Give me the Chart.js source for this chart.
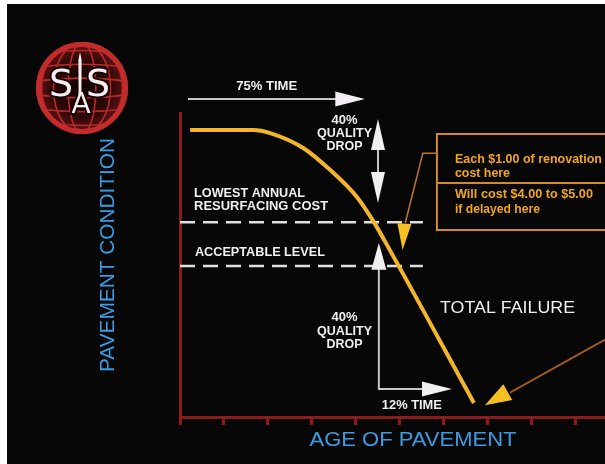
<!DOCTYPE html>
<html><head><meta charset="utf-8">
<script src="https://cdn.jsdelivr.net/npm/chart.js@4.4.1/dist/chart.umd.min.js"></script>
<style>html,body{margin:0;padding:0;background:#fff}canvas{display:block}</style>
</head><body>
<canvas id="c" width="605" height="464"></canvas>
<script>
// pavement condition curve (age units = axis tick steps, condition 0-100)
const ageX       = [0.23, 1.66, 2.05, 2.80, 3.41, 4.02, 4.39, 4.77, 6.68];
const conditionY = [94.4, 94.4, 93.4, 88.5, 81.3, 72.4, 64.5, 54.9, 4.6];
// dashed reference levels
const levelNames = ['LOWEST ANNUAL RESURFACING COST', 'ACCEPTABLE LEVEL'];
const levelY     = [64.1, 49.7];
const levelEndX  = 5.52;
// tick marks on the age axis
const ageTicks = [0, 1, 2, 3, 4, 5, 6, 7, 8, 9];

const AXIS_RED = '#8c1c1c', WHITE = '#f1eff1', GREY = '#c9c5c9', YEL = '#f5c022', ORG = '#f2a61c', BLUE = '#3d9be3';

// draw text squeezed/stretched to a measured width
function fitText(ctx, txt, x, y, w, font, color, align){
  ctx.save();
  ctx.font = font; ctx.fillStyle = color; ctx.textBaseline = 'middle'; ctx.textAlign = 'left';
  const m = ctx.measureText(txt).width;
  ctx.translate(align === 'center' ? x - w/2 : x, y);
  ctx.scale(w/m, 1);
  ctx.fillText(txt, 0, 0);
  ctx.restore();
}
function head(ctx, b, t, hw, color){
  const dx = t[0]-b[0], dy = t[1]-b[1], L = Math.hypot(dx, dy), nx = -dy/L, ny = dx/L;
  ctx.beginPath();
  ctx.moveTo(t[0], t[1]);
  ctx.lineTo(b[0]+nx*hw, b[1]+ny*hw);
  ctx.lineTo(b[0]-nx*hw, b[1]-ny*hw);
  ctx.closePath();
  ctx.fillStyle = color; ctx.fill();
}
function path(ctx, pts, color, w){
  ctx.beginPath();
  pts.forEach((p,i)=> i ? ctx.lineTo(p[0],p[1]) : ctx.moveTo(p[0],p[1]));
  ctx.strokeStyle = color; ctx.lineWidth = w; ctx.stroke();
}

function drawLogo(ctx){
  const cx = 82, cy = 88, r = 46;
  ctx.save();
  const g = ctx.createRadialGradient(cx, cy, 6, cx, cy, r);
  g.addColorStop(0, '#140303'); g.addColorStop(0.6, '#300808'); g.addColorStop(1, '#6e1414');
  ctx.beginPath(); ctx.arc(cx, cy, r, 0, 2*Math.PI); ctx.fillStyle = g; ctx.fill();
  ctx.clip();
  ctx.strokeStyle = '#b72a2a'; ctx.lineWidth = 1.6;
  [0.3, 0.62, 0.88].forEach(k=>{ ctx.beginPath(); ctx.ellipse(cx, cy, r*k, r, 0, 0, 2*Math.PI); ctx.stroke(); });
  [-0.75, -0.45, -0.15, 0.15, 0.45, 0.75].forEach(s=>{
    ctx.beginPath(); ctx.moveTo(cx-r, cy+s*r); ctx.quadraticCurveTo(cx, cy+s*r+ (s>0?6:-6), cx+r, cy+s*r); ctx.stroke();
  });
  ctx.restore();
  ctx.save();
  ctx.beginPath(); ctx.arc(cx, cy, r-2.5, 0, 2*Math.PI); ctx.strokeStyle = '#c42c2c'; ctx.lineWidth = 5; ctx.stroke();
  // letters
  ctx.textAlign = 'center'; ctx.textBaseline = 'middle';
  ctx.lineWidth = 4; ctx.strokeStyle = '#1a0000'; ctx.fillStyle = '#f4f0f0';
  ctx.font = '38px "DejaVu Sans"';
  [[61, 86], [98, 86]].forEach(p=>{ ctx.strokeText('S', p[0], p[1]); ctx.fillText('S', p[0], p[1]); });
  ctx.font = '28px "DejaVu Sans"';
  ctx.strokeText('A', 81, 106); ctx.fillText('A', 81, 106);
  ctx.beginPath(); ctx.moveTo(80, 52); ctx.lineTo(81.6, 60); ctx.lineTo(81.4, 95); ctx.lineTo(78.6, 95); ctx.lineTo(78.4, 60); ctx.closePath();
  ctx.fill();
  ctx.restore();
}

const overlay = {
  id: 'overlay',
  beforeDraw(chart){
    const {ctx, width, height} = chart;
    ctx.save();
    ctx.fillStyle = '#ffffff'; ctx.fillRect(0, 0, width, height);
    ctx.fillStyle = '#070707'; ctx.fillRect(7, 4, width-7, height-4);
    ctx.restore();
  },
  afterDraw(chart){
    const {ctx, scales:{x, y}, chartArea:ca} = chart;
    const P = (a, b) => [x.getPixelForValue(a), y.getPixelForValue(b)];
    ctx.save();
    ctx.lineCap = 'butt';
    const lbl = 'bold 13px "Liberation Sans"';

    // 75% time arrow
    path(ctx, [P(0.18, 104.6), P(3.6, 104.6)], GREY, 2);
    head(ctx, P(3.53, 104.6), P(4.2, 104.6), 7.5, WHITE);
    fitText(ctx, '75% TIME', x.getPixelForValue(1.97), y.getPixelForValue(108.6), 61, lbl, WHITE, 'center');

    // upper quality drop
    const qx = 3.74;
    [['40%', 97.7, 26], ['QUALITY', 93.4, 55], ['DROP', 89.1, 36]].forEach(t=>
      fitText(ctx, t[0], x.getPixelForValue(qx), y.getPixelForValue(t[1]), t[2], lbl, WHITE, 'center'));
    path(ctx, [P(4.5, 88.5), P(4.5, 80)], GREY, 2);
    head(ctx, P(4.5, 87.8), P(4.5, 98.0), 7, WHITE);
    head(ctx, P(4.5, 80.6), P(4.5, 70.4), 7, WHITE);

    // level labels
    fitText(ctx, 'LOWEST ANNUAL', x.getPixelForValue(0.32), y.getPixelForValue(73.7), 111, lbl, WHITE);
    fitText(ctx, 'RESURFACING COST', x.getPixelForValue(0.32), y.getPixelForValue(69.4), 134, lbl, WHITE);
    fitText(ctx, 'ACCEPTABLE LEVEL', x.getPixelForValue(0.34), y.getPixelForValue(54.3), 130, lbl, WHITE);

    // lower quality drop + 12% time
    [['40%', 32.6, 26], ['QUALITY', 28.3, 55], ['DROP', 24.0, 36]].forEach(t=>
      fitText(ctx, t[0], x.getPixelForValue(qx), y.getPixelForValue(t[1]), t[2], lbl, WHITE, 'center'));
    path(ctx, [P(4.52, 49), P(4.52, 9.2), P(5.55, 9.2)], GREY, 2);
    head(ctx, P(4.52, 48.4), P(4.52, 57.2), 7.5, WHITE);
    head(ctx, P(5.5, 9.2), P(6.18, 9.2), 7.5, WHITE);
    fitText(ctx, '12% TIME', x.getPixelForValue(5.27), y.getPixelForValue(3.9), 60, lbl, WHITE, 'center');

    fitText(ctx, 'TOTAL FAILURE', x.getPixelForValue(5.91), y.getPixelForValue(35.5), 135, '16px "Liberation Sans"', WHITE);

    // cost box
    const bl = x.getPixelForValue(5.84), bt = y.getPixelForValue(93.1), bb = y.getPixelForValue(61.5), bm = y.getPixelForValue(77.0);
    ctx.strokeStyle = '#d38a2a'; ctx.lineWidth = 2;
    ctx.strokeRect(bl, bt, ca.right + 10 - bl, bb - bt);
    path(ctx, [[bl, bm], [ca.right + 10, bm]], '#d38a2a', 2);
    const bf = 'bold 12px "Liberation Sans"', tx = x.getPixelForValue(6.25);
    fitText(ctx, 'Each $1.00 of renovation', tx, y.getPixelForValue(84.5), 147, bf, ORG);
    fitText(ctx, 'cost here', tx, y.getPixelForValue(79.9), 55, bf, ORG);
    fitText(ctx, 'Will cost $4.00 to $5.00', tx, y.getPixelForValue(73.0), 138, bf, ORG);
    fitText(ctx, 'if delayed here', tx, y.getPixelForValue(68.1), 85, bf, ORG);

    // connector to the curve
    path(ctx, [P(5.84, 86.8), P(5.52, 86.8), P(5.12, 63.8)], '#c0762a', 1.5);
    head(ctx, P(5.1, 63.6), P(5.06, 54.9), 7, YEL);

    // arrow to total failure point
    path(ctx, [P(9.8, 26.6), P(7.5, 8.0)], '#9c5a20', 2);
    head(ctx, P(7.45, 8.2), P(6.93, 3.9), 9, YEL);

    // axis titles
    fitText(ctx, 'AGE OF PAVEMENT', 413, 440, 207, '21px "Liberation Sans"', BLUE, 'center');
    ctx.save(); ctx.translate(108, 255); ctx.rotate(-Math.PI/2);
    fitText(ctx, 'PAVEMENT CONDITION', 0, 0, 234, '20px "Liberation Sans"', BLUE, 'center');
    ctx.restore();

    drawLogo(ctx);
    ctx.restore();
  }
};

new Chart(document.getElementById('c'), {
  type: 'line',
  data: {
    datasets: [
      {label: 'Pavement condition', data: ageX.map((a, i) => ({x: a, y: conditionY[i]})),
       borderColor: '#f3b52b', borderWidth: 4, pointRadius: 0, cubicInterpolationMode: 'monotone', order: 0},
      ...levelY.map((v, i) => ({label: levelNames[i], data: [{x: 0, y: v}, {x: levelEndX, y: v}],
       borderColor: '#e2dfe2', borderWidth: 2.5, borderDash: [15, 8], pointRadius: 0, order: 1}))
    ]
  },
  options: {
    responsive: false, animation: false, devicePixelRatio: 1,
    layout: {padding: {left: 180, top: 113, right: 0, bottom: 39}},
    plugins: {legend: {display: false}, tooltip: {enabled: false}},
    scales: {
      x: {type: 'linear', min: 0, max: 9.66,
          ticks: {display: false, stepSize: 1},
          afterBuildTicks: s => { s.ticks = ageTicks.map(v => ({value: v})); },
          grid: {drawOnChartArea: false, drawTicks: true, tickLength: 8, tickWidth: 3, color: AXIS_RED},
          border: {color: AXIS_RED, width: 3}},
      y: {min: 0, max: 100,
          ticks: {display: false},
          grid: {drawOnChartArea: false, drawTicks: false},
          border: {color: AXIS_RED, width: 3}}
    }
  },
  plugins: [overlay]
});
</script>
</body></html>
